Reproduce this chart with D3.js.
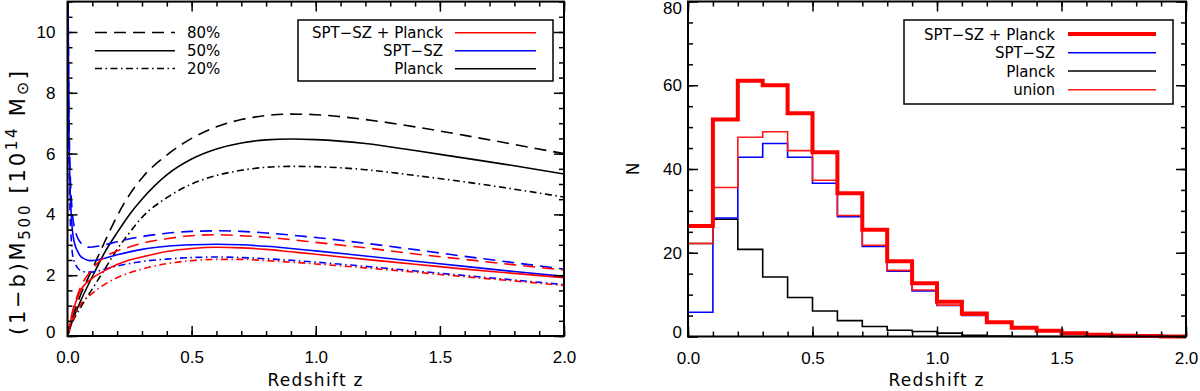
<!DOCTYPE html>
<html>
<head>
<meta charset="utf-8">
<script src="https://cdn.jsdelivr.net/npm/d3@7"></script>
<style>
  body { margin: 0; background: #fff; }
  svg { display: block; font-family: "DejaVu Sans", sans-serif; }
  .tick line { stroke: #000; stroke-width: 1.5; }
  .tick text { fill: #000; font-size: 17px; }
</style>
</head>
<body>
<svg id="chart" width="1200" height="391"></svg>
<script>
'use strict';

// ---- left panel: limiting mass vs redshift ----
const zGrid = [0, 0.02, 0.05, 0.1, 0.15, 0.2, 0.25, 0.3, 0.4, 0.5, 0.6, 0.7, 0.8, 0.9, 1.0, 1.2, 1.4, 1.6, 1.8, 2.0];
const planck80 = [0, 0.6, 1.3, 2.2, 3.1, 3.95, 4.65, 5.2, 5.95, 6.5, 6.88, 7.12, 7.25, 7.3, 7.28, 7.12, 6.88, 6.6, 6.3, 6.0];
const planck50 = [0, 0.5, 1.1, 1.95, 2.75, 3.4, 4.0, 4.5, 5.3, 5.82, 6.15, 6.35, 6.45, 6.48, 6.46, 6.33, 6.1, 5.85, 5.6, 5.33];
const planck20 = [0, 0.45, 0.9, 1.55, 2.2, 2.85, 3.4, 3.9, 4.55, 5.0, 5.28, 5.45, 5.55, 5.58, 5.57, 5.47, 5.28, 5.07, 4.83, 4.57];
const both80 = [0, 0.8, 1.55, 2.2, 2.6, 2.8, 2.93, 3.05, 3.2, 3.3, 3.33, 3.3, 3.25, 3.17, 3.08, 2.9, 2.7, 2.52, 2.34, 2.17];
const both50 = [0, 0.75, 1.45, 1.9, 2.15, 2.35, 2.5, 2.6, 2.78, 2.88, 2.92, 2.9, 2.85, 2.77, 2.69, 2.52, 2.36, 2.2, 2.06, 1.92];
const both20 = [0, 0.5, 1.0, 1.4, 1.7, 1.92, 2.08, 2.2, 2.38, 2.48, 2.52, 2.52, 2.48, 2.43, 2.37, 2.24, 2.1, 1.95, 1.81, 1.66];

const zSpt = [0.002, 0.005, 0.01, 0.015, 0.02, 0.03, 0.04, 0.05, 0.07, 0.09, 0.12, 0.15, 0.2, 0.3, 0.4, 0.5, 0.6, 0.7, 0.8, 0.9, 1.0, 1.2, 1.4, 1.6, 1.8, 2.0];
const spt80 = [11.5, 8.0, 5.6, 4.6, 4.0, 3.5, 3.25, 3.1, 2.97, 2.92, 2.95, 3.0, 3.1, 3.27, 3.38, 3.44, 3.46, 3.44, 3.39, 3.32, 3.24, 3.05, 2.84, 2.62, 2.41, 2.2];
const spt50 = [11.5, 7.5, 5.0, 4.0, 3.45, 3.0, 2.8, 2.65, 2.53, 2.48, 2.5, 2.56, 2.67, 2.85, 2.95, 3.0, 3.02, 3.0, 2.95, 2.88, 2.8, 2.63, 2.46, 2.29, 2.12, 1.96];
const spt20 = [11.5, 7.0, 4.2, 3.2, 2.7, 2.4, 2.25, 2.17, 2.11, 2.1, 2.13, 2.2, 2.3, 2.45, 2.53, 2.58, 2.6, 2.58, 2.54, 2.49, 2.43, 2.29, 2.14, 1.99, 1.84, 1.69];

// ---- right panel: redshift histograms ----
const binEdges = [0, 0.1, 0.2, 0.3, 0.4, 0.5, 0.6, 0.7, 0.8, 0.9, 1.0, 1.1, 1.2, 1.3, 1.4, 1.5, 1.6, 1.7, 1.8, 1.9, 2.0];
const nBoth = [26.4, 51.8, 61.1, 60.0, 53.3, 44.0, 34.2, 25.5, 18.0, 12.7, 8.3, 5.5, 3.4, 2.1, 1.4, 0.8, 0.4, 0.2, 0.1, 0.0];
const nUnion = [22.2, 35.6, 47.6, 48.9, 44.4, 37.3, 28.9, 21.8, 15.8, 11.1, 7.5, 5.1, 3.3, 2.0, 1.3, 0.7, 0.3, 0.2, 0.1, 0.0];
const nSpt = [5.8, 28.3, 42.8, 46.1, 42.8, 36.6, 28.6, 21.5, 15.6, 10.9, 7.4, 5.0, 3.2, 2.0, 1.3, 0.7, 0.3, 0.2, 0.1, 0.0];
const nPlanck = [22.2, 28.0, 20.8, 14.2, 9.3, 6.1, 3.8, 2.4, 1.5, 1.2, 0.8, 0.3, 0.1, 0, 0, 0, 0, 0, 0, 0];

const xTicks = [0, 0.5, 1.0, 1.5, 2.0];
const massTicks = [0, 2, 4, 6, 8, 10];
const countTicks = [0, 20, 40, 60, 80];

const svg = d3.select('#chart');

function drawFrame(x, y, yMajor, yMinorStep, yPad, yFmt) {
    var x0 = x.range()[0], x1 = x.range()[1],
        y0 = y.range()[0], y1 = y.range()[1];
    var xMinor = d3.range(0, 2.0001, 0.1);
    var yMinor = d3.range(y.domain()[0], y.domain()[1] + 0.001, yMinorStep);

    // bottom
    svg.append('g').attr('transform', 'translate(0,' + y0 + ')')
        .call(d3.axisBottom(x).tickValues(xMinor).tickSize(-5).tickFormat(''));
    svg.append('g').attr('transform', 'translate(0,' + y0 + ')')
        .call(d3.axisBottom(x).tickValues(xTicks).tickSize(-10).tickPadding(15).tickFormat(d3.format('.1f')));
    // top
    svg.append('g').attr('transform', 'translate(0,' + y1 + ')')
        .call(d3.axisTop(x).tickValues(xMinor).tickSize(-5).tickFormat(''));
    svg.append('g').attr('transform', 'translate(0,' + y1 + ')')
        .call(d3.axisTop(x).tickValues(xTicks).tickSize(-10).tickFormat(''));
    // left
    svg.append('g').attr('transform', 'translate(' + x0 + ',0)')
        .call(d3.axisLeft(y).tickValues(yMinor).tickSize(-5).tickFormat(''));
    var left = svg.append('g').attr('transform', 'translate(' + x0 + ',0)')
        .call(d3.axisLeft(y).tickValues(yMajor).tickSize(-10).tickPadding(yPad).tickFormat(yFmt));
    // labels at the ends are pulled inside the frame
    left.selectAll('.tick text')
        .attr('y', function(d) {
            if (d === y.domain()[0]) return -4;
            if (d === y.domain()[1]) return 7;
            return 0;
        });
    // right
    svg.append('g').attr('transform', 'translate(' + x1 + ',0)')
        .call(d3.axisRight(y).tickValues(yMinor).tickSize(-5).tickFormat(''));
    svg.append('g').attr('transform', 'translate(' + x1 + ',0)')
        .call(d3.axisRight(y).tickValues(yMajor).tickSize(-10).tickFormat(''));

    svg.selectAll('.domain').remove();
    svg.append('rect')
        .attr('x', x0).attr('y', y1)
        .attr('width', x1 - x0).attr('height', y0 - y1)
        .attr('fill', 'none').attr('stroke', '#000').attr('stroke-width', 2);
}

// ================= LEFT PANEL =================
var xL = d3.scaleLinear().domain([0, 2]).range([67.5, 564]);
var yL = d3.scaleLinear().domain([0, 11]).range([336, 1.6]);

svg.append('clipPath').attr('id', 'clipL')
    .append('rect').attr('x', 67.5).attr('y', 1.6).attr('width', 564 - 67.5).attr('height', 336 - 1.6);

var dashes = { d80: '12,7', d50: null, d20: '7,3.5,1.5,3.5' };
var curves = [
    { z: zGrid, m: planck80, color: '#000', dash: dashes.d80 },
    { z: zGrid, m: planck50, color: '#000', dash: dashes.d50 },
    { z: zGrid, m: planck20, color: '#000', dash: dashes.d20 },
    { z: zSpt, m: spt80, color: '#0000ff', dash: dashes.d80 },
    { z: zSpt, m: spt50, color: '#0000ff', dash: dashes.d50 },
    { z: zSpt, m: spt20, color: '#0000ff', dash: dashes.d20 },
    { z: zGrid, m: both80, color: '#ff0000', dash: dashes.d80 },
    { z: zGrid, m: both50, color: '#ff0000', dash: dashes.d50 },
    { z: zGrid, m: both20, color: '#ff0000', dash: dashes.d20 }
];

var massLine = d3.line()
    .x(function(d) { return xL(d[0]); })
    .y(function(d) { return yL(d[1]); })
    .curve(d3.curveMonotoneX);

var curveG = svg.append('g').attr('clip-path', 'url(#clipL)');
curves.forEach(function(c) {
    curveG.append('path')
        .attr('d', massLine(d3.zip(c.z, c.m)))
        .attr('fill', 'none')
        .attr('stroke', c.color)
        .attr('stroke-width', 1.6)
        .attr('stroke-dasharray', c.dash);
});

drawFrame(xL, yL, massTicks, 0.5, 12, d3.format('d'));

// x label
svg.append('text').attr('x', 315).attr('y', 386)
    .attr('text-anchor', 'middle').attr('textLength', 95).style('font-size', '17px').text('Redshift  z');

// y label
var yLab = svg.append('text')
    .attr('transform', 'translate(25,203) rotate(-90)')
    .attr('text-anchor', 'middle').style('font-size', '21px')
    .attr('textLength', 264).attr('lengthAdjust', 'spacing');
yLab.append('tspan').text('(1\u2212b)M');
yLab.append('tspan').attr('dy', 5).style('font-size', '15px').text('500');
yLab.append('tspan').attr('dy', -5).text('  [10');
yLab.append('tspan').attr('dy', -8).style('font-size', '15px').text('14');
yLab.append('tspan').attr('dy', 8).text('  M');
yLab.append('tspan').attr('dy', 3).style('font-size', '16px').text('\u2299');
yLab.append('tspan').attr('dy', -3).text(']');

// completeness legend (line styles)
var styleLegend = [
    { label: '80%', dash: dashes.d80, y: 32.5 },
    { label: '50%', dash: dashes.d50, y: 50.7 },
    { label: '20%', dash: dashes.d20, y: 68.5 }
];
styleLegend.forEach(function(s) {
    svg.append('line').attr('x1', 95).attr('x2', 175).attr('y1', s.y).attr('y2', s.y)
        .attr('stroke', '#000').attr('stroke-width', 1.6).attr('stroke-dasharray', s.dash);
    svg.append('text').attr('x', 187).attr('y', s.y + 5.5)
        .style('font-size', '15px').text(s.label);
});

// survey legend (box)
svg.append('rect').attr('x', 298).attr('y', 20).attr('width', 255).attr('height', 61)
    .attr('fill', '#fff').attr('stroke', '#000').attr('stroke-width', 1.5);
var surveyLegend = [
    { label: 'SPT\u2212SZ + Planck', color: '#ff0000', y: 32.7 },
    { label: 'SPT\u2212SZ', color: '#0000ff', y: 50.7 },
    { label: 'Planck', color: '#000', y: 68.7 }
];
surveyLegend.forEach(function(s) {
    svg.append('line').attr('x1', 455).attr('x2', 536).attr('y1', s.y).attr('y2', s.y)
        .attr('stroke', s.color).attr('stroke-width', 1.6);
    svg.append('text').attr('x', 443).attr('y', s.y + 5.5).attr('text-anchor', 'end')
        .style('font-size', '15px').text(s.label);
});

// ================= RIGHT PANEL =================
var xR = d3.scaleLinear().domain([0, 2]).range([688, 1186]);
var yR = d3.scaleLinear().domain([0, 80]).range([336.5, 1.5]);

var stepLine = d3.line()
    .x(function(d) { return xR(d[0]); })
    .y(function(d) { return yR(d[1]); })
    .curve(d3.curveStepAfter);

function histPoints(counts) {
    var pts = counts.map(function(n, i) { return [binEdges[i], n]; });
    pts.push([binEdges[binEdges.length - 1], counts[counts.length - 1]]);
    return pts;
}

var hists = [
    { n: nPlanck, color: '#000', width: 1.6 },
    { n: nSpt, color: '#0000ff', width: 1.6 },
    { n: nUnion, color: '#ff1a1a', width: 1.6 },
    { n: nBoth, color: '#ff0000', width: 4 }
];
hists.forEach(function(h) {
    svg.append('path')
        .attr('d', stepLine(histPoints(h.n)))
        .attr('fill', 'none')
        .attr('stroke', h.color)
        .attr('stroke-width', h.width);
});

drawFrame(xR, yR, countTicks, 5, 6, d3.format('d'));

svg.append('text').attr('x', 936).attr('y', 386)
    .attr('text-anchor', 'middle').attr('textLength', 95).style('font-size', '17px').text('Redshift  z');
svg.append('text')
    .attr('transform', 'translate(639,169) rotate(-90)')
    .attr('text-anchor', 'middle').style('font-size', '17px').text('N');

svg.append('rect').attr('x', 904).attr('y', 20).attr('width', 269).attr('height', 84)
    .attr('fill', '#fff').attr('stroke', '#000').attr('stroke-width', 1.5);
var histLegend = [
    { label: 'SPT\u2212SZ + Planck', color: '#ff0000', width: 4, y: 34 },
    { label: 'SPT\u2212SZ', color: '#0000ff', width: 1.6, y: 52.7 },
    { label: 'Planck', color: '#000', width: 1.6, y: 71 },
    { label: 'union', color: '#ff1a1a', width: 1.6, y: 89.7 }
];
histLegend.forEach(function(s) {
    svg.append('line').attr('x1', 1068).attr('x2', 1156).attr('y1', s.y).attr('y2', s.y)
        .attr('stroke', s.color).attr('stroke-width', s.width);
    svg.append('text').attr('x', 1055).attr('y', s.y + 5.5).attr('text-anchor', 'end')
        .style('font-size', '15px').text(s.label);
});
</script>
</body>
</html>
